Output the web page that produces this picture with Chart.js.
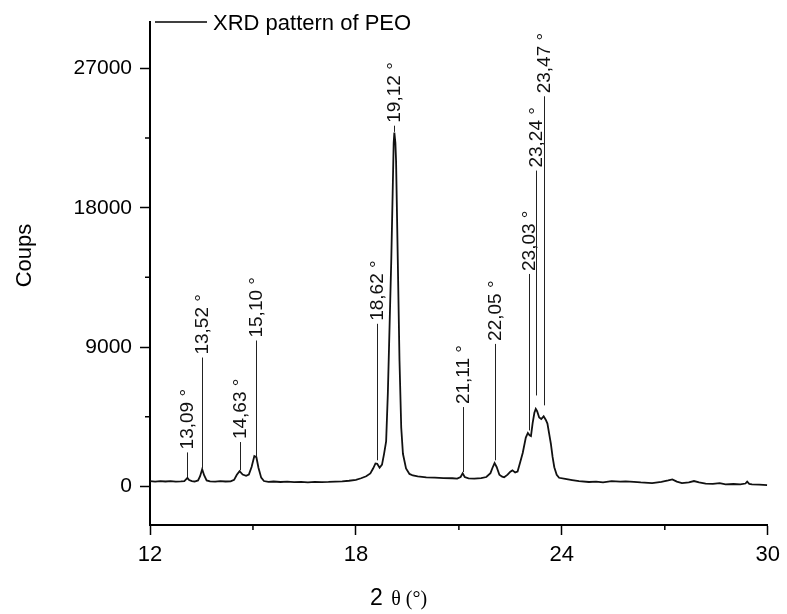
<!DOCTYPE html>
<html>
<head>
<meta charset="utf-8">
<title>XRD pattern of PEO</title>
<script src="https://cdn.jsdelivr.net/npm/chart.js@4/dist/chart.umd.min.js"></script>
<style>
  html, body { margin: 0; padding: 0; background: #fff; }
  #wrap { width: 787px; height: 614px; }
</style>
</head>
<body>
<div id="wrap"><canvas id="xrdChart"></canvas></div>
<script>
// ============================================================
// XRD pattern of PEO – Coups vs 2θ
// ============================================================

// ── Data ────────────────────────────────────────────────────

const twoTheta = [
  12.00, 12.15, 12.30, 12.45, 12.60, 12.75, 12.90, 13.00, 13.05, 13.09,
  13.14, 13.22, 13.30, 13.40, 13.46, 13.52, 13.58, 13.65, 13.75, 13.90,
  14.05, 14.20, 14.35, 14.45, 14.53, 14.61, 14.70, 14.80, 14.88, 14.96,
  15.04, 15.10, 15.16, 15.24, 15.32, 15.45, 15.60, 15.80, 16.00, 16.20,
  16.40, 16.60, 16.80, 17.00, 17.20, 17.40, 17.60, 17.80, 18.00, 18.15,
  18.30, 18.42, 18.50, 18.57, 18.62, 18.69, 18.76, 18.82, 18.88, 18.93,
  18.98, 19.03, 19.07, 19.10, 19.12, 19.15, 19.17, 19.22, 19.27, 19.32,
  19.37, 19.46, 19.56, 19.66, 19.80, 20.05, 20.30, 20.55, 20.81, 20.95,
  21.05, 21.11, 21.17, 21.28, 21.45, 21.65, 21.80, 21.92, 21.98, 22.04,
  22.10, 22.18, 22.26, 22.32, 22.42, 22.50, 22.56, 22.64, 22.71, 22.78,
  22.86, 22.95, 23.01, 23.06, 23.10, 23.15, 23.20, 23.24, 23.28, 23.34,
  23.40, 23.47, 23.53, 23.58, 23.63, 23.68, 23.73, 23.78, 23.85, 23.92,
  24.10, 24.30, 24.50, 24.79, 25.00, 25.20, 25.45, 25.70, 25.86, 26.10,
  26.30, 26.63, 26.90, 27.10, 27.22, 27.35, 27.50, 27.70, 27.85, 28.00,
  28.19, 28.40, 28.60, 28.77, 29.00, 29.20, 29.35, 29.40, 29.46, 29.54,
  29.75, 29.98
];

const counts = [
    330,   300,   340,   310,   330,   300,   320,   340,   450,   540,
    400,   330,   310,   380,   650,  1100,   700,   380,   320,   300,
    330,   310,   320,   420,   750,   980,   760,   680,   760,  1250,
   1950,  1880,  1200,   560,   340,   290,   310,   280,   300,   270,
    290,   260,   290,   270,   280,   300,   320,   360,   420,   520,
    650,   830,  1150,  1480,  1460,  1200,  1400,  2100,  2900,  6000,
  10300, 14600, 18900, 22200, 22850, 22200, 21000, 14600,  8100,  3800,
   2100,  1160,   800,   700,   640,   580,   560,   530,   520,   500,
    600,   840,   600,   510,   500,   530,   600,   850,  1200,  1500,
   1250,   750,   620,   580,   750,   950,  1030,   900,   950,  1500,
   2150,  3150,  3450,  3300,  3250,  4100,  4750,  5000,  4850,  4450,
   4350,  4520,  4300,  4050,  3400,  2750,  1900,  1230,   750,   550,
    480,   400,   330,   280,   300,   260,   330,   300,   320,   290,
    250,   210,   290,   380,   450,   300,   210,   260,   340,   250,
    170,   160,   200,   130,   150,   120,   180,   300,   160,   130,
    110,    70
];

// Peak annotations: position, label, vertical line extent (in Coups)
const peakPos        = [13.09, 13.52, 14.63, 15.10, 18.62, 19.12, 21.11, 22.05, 23.03, 23.24, 23.47];
const peakLabels     = ['13,09 °', '13,52 °', '14,63 °', '15,10 °', '18,62 °', '19,12 °',
                        '21,11 °', '22,05 °', '23,03 °', '23,24 °', '23,47 °'];
const peakLineTop    = [2190, 8320, 2860, 9420, 10500, 23300, 5120, 9200, 13720, 20400, 25200];
const peakLineBottom = [ 600, 1160, 1030, 1890,  1680, 22900,  920, 1680,  3610,  5870,  5230];

// Axis ticks
const xTicks    = [12, 15, 18, 21, 24, 27, 30];
const xLabelled = [12, 18, 24, 30];
const yTicks    = [0, 4500, 9000, 13500, 18000, 22500, 27000];
const yLabelled = [0, 9000, 18000, 27000];

const seriesName = 'XRD pattern of PEO';
const yTitle     = 'Coups';

// ── Helpers ─────────────────────────────────────────────────

const SANS  = '"Liberation Sans", Arial, sans-serif';
const SERIF = '"Liberation Serif", "Times New Roman", serif';

const isMajor = (list, v) => list.includes(v);
const majorTickColor = list => c => (c.tick && isMajor(list, c.tick.value)) ? '#000' : 'rgba(0,0,0,0)';

// ── Extra drawing: minor ticks, peak markers, legend, titles ─

const xrdDecor = {
  id: 'xrdDecor',
  afterDraw(chart) {
    const { ctx, chartArea: area, scales: { x, y } } = chart;
    ctx.save();

    // short minor ticks
    ctx.strokeStyle = '#000';
    ctx.lineWidth = 1.5;
    ctx.beginPath();
    xTicks.filter(v => !isMajor(xLabelled, v)).forEach(v => {
      const px = x.getPixelForValue(v);
      ctx.moveTo(px, area.bottom);
      ctx.lineTo(px, area.bottom + 5);
    });
    yTicks.filter(v => !isMajor(yLabelled, v)).forEach(v => {
      const py = y.getPixelForValue(v);
      ctx.moveTo(area.left, py);
      ctx.lineTo(area.left - 5, py);
    });
    ctx.stroke();

    // peak lines + rotated labels
    ctx.strokeStyle = '#222';
    ctx.lineWidth = 1;
    ctx.fillStyle = '#111';
    ctx.font = '19px ' + SANS;
    ctx.textAlign = 'left';
    ctx.textBaseline = 'middle';
    peakPos.forEach((p, i) => {
      const px = Math.round(x.getPixelForValue(p)) + 0.5;
      const top = y.getPixelForValue(peakLineTop[i]);
      const bot = y.getPixelForValue(peakLineBottom[i]);
      ctx.beginPath();
      ctx.moveTo(px, bot);
      ctx.lineTo(px, top);
      ctx.stroke();
      ctx.save();
      ctx.translate(px, top - 3);
      ctx.rotate(-Math.PI / 2);
      ctx.fillText(peakLabels[i], 0, 0);
      ctx.restore();
    });

    // legend (top left, overlapping the axis head)
    ctx.strokeStyle = '#000';
    ctx.lineWidth = 1.5;
    ctx.beginPath();
    ctx.moveTo(area.left + 5, area.top);
    ctx.lineTo(area.left + 57, area.top);
    ctx.stroke();
    ctx.font = '22px ' + SANS;
    ctx.textBaseline = 'alphabetic';
    ctx.fillStyle = '#000';
    ctx.fillText(seriesName, area.left + 63, area.top + 8);

    // y title
    ctx.save();
    ctx.translate(25, (area.top + area.bottom) / 2 - 18);
    ctx.rotate(-Math.PI / 2);
    ctx.textAlign = 'center';
    ctx.textBaseline = 'middle';
    ctx.font = '22px ' + SANS;
    ctx.fillText(yTitle, 0, 0);
    ctx.restore();

    // x title: "2" in sans, "θ (°)" in serif
    const tx = area.left + 220;
    const ty = area.bottom + 80;
    ctx.font = '23px ' + SANS;
    ctx.fillText('2', tx, ty);
    const w2 = ctx.measureText('2 ').width;
    ctx.font = '20px ' + SERIF;
    ctx.fillText('θ (°)', tx + w2 + 2, ty);

    ctx.restore();
  }
};

// ── Chart ───────────────────────────────────────────────────

new Chart(document.getElementById('xrdChart'), {
  type: 'line',
  data: {
    datasets: [{
      label: seriesName,
      data: twoTheta.map((t, i) => ({ x: t, y: counts[i] })),
      borderColor: '#111',
      borderWidth: 1.8,
      pointRadius: 0,
      tension: 0,
      fill: false
    }]
  },
  options: {
    responsive: true,
    maintainAspectRatio: false,
    animation: false,
    layout: { padding: { top: 22, right: 16, bottom: 0, left: 0 } },
    plugins: {
      legend: { display: false },
      tooltip: { enabled: false }
    },
    scales: {
      x: {
        type: 'linear',
        min: 12,
        max: 30,
        afterBuildTicks: s => { s.ticks = xTicks.map(v => ({ value: v })); },
        afterFit: s => { s.height = 89; },
        border: { color: '#000', width: 2 },
        grid: {
          drawOnChartArea: false,
          tickLength: 10,
          tickWidth: 1.5,
          tickColor: majorTickColor(xLabelled)
        },
        ticks: {
          color: '#000',
          font: { family: SANS, size: 22 },
          padding: 7,
          maxRotation: 0,
          autoSkip: false,
          callback: v => isMajor(xLabelled, v) ? String(v) : ''
        }
      },
      y: {
        min: -2500,
        max: 30000,
        afterBuildTicks: s => { s.ticks = yTicks.map(v => ({ value: v })); },
        afterFit: s => { s.width = 150; },
        border: { color: '#000', width: 2 },
        grid: {
          drawOnChartArea: false,
          tickLength: 10,
          tickWidth: 1.5,
          tickColor: majorTickColor(yLabelled)
        },
        ticks: {
          color: '#000',
          font: { family: SANS, size: 21 },
          padding: 8,
          autoSkip: false,
          callback: v => isMajor(yLabelled, v) ? String(v) : ''
        }
      }
    }
  },
  plugins: [xrdDecor]
});
</script>
</body>
</html>
